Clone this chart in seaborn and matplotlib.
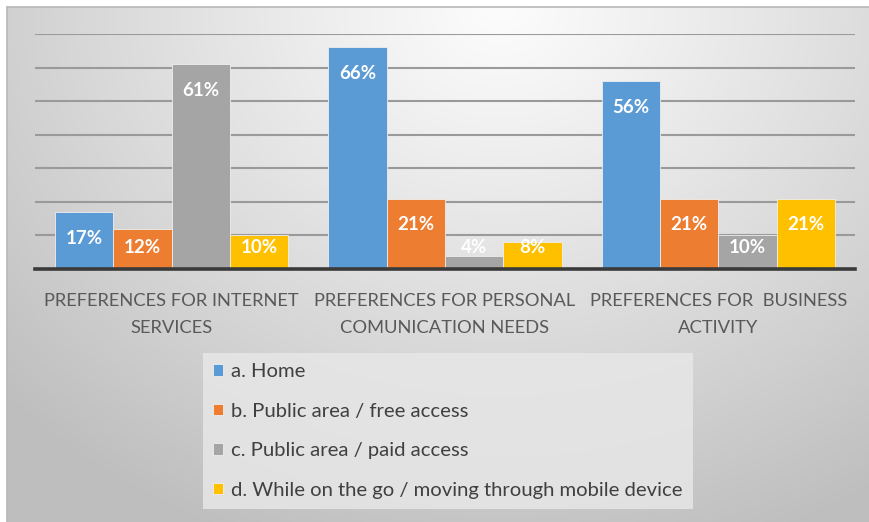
import numpy as np
import pandas as pd
import matplotlib
matplotlib.use("Agg")
import matplotlib.pyplot as plt
import seaborn as sns

# Survey data: share of respondents (%) by place of access
categories = [
    "PREFERENCES FOR INTERNET\nSERVICES",
    "PREFERENCES FOR PERSONAL\nCOMUNICATION NEEDS",
    "PREFERENCES FOR  BUSINESS\nACTIVITY",
]
series = [
    "a. Home",
    "b. Public area / free access",
    "c. Public area / paid access",
    "d. While on the go / moving through mobile device",
]
home = [17, 66, 56]
free_access = [12, 21, 21]
paid_access = [61, 4, 10]
mobile = [10, 8, 21]

colors = ["#5B9BD5", "#ED7D31", "#A5A5A5", "#FFC000"]

rows = []
for name, vals in zip(series, [home, free_access, paid_access, mobile]):
    for cat, v in zip(categories, vals):
        rows.append({"category": cat, "series": name, "value": v})
df = pd.DataFrame(rows)

sns.set_theme(style="white")
plt.rcParams["font.family"] = ["Lato", "DejaVu Sans"]

W, H = 870, 522
fig = plt.figure(figsize=(W / 100, H / 100), dpi=100)
fig.patch.set_facecolor("white")

# Chart-area background: soft radial gradient, light at top centre
bg = fig.add_axes([7 / W, 0, 1 - 7 / W, 1 - 7 / H])
yy, xx = np.mgrid[0:515, 0:863]
d = np.sqrt((xx - 493) ** 2 + (yy / 0.85) ** 2)
t = np.clip(d / 680, 0, 1) ** 1.1
shade = (252 - 62 * t) / 255.0
bg.imshow(np.dstack([shade, shade, shade]), aspect="auto", interpolation="bilinear")
bg.set_axis_off()
bg.set_zorder(-5)
fig.add_artist(plt.Line2D([7 / W, 1], [1 - 7 / H, 1 - 7 / H], color="#b8b8b8", lw=1.2))
fig.add_artist(plt.Line2D([7 / W, 7 / W], [0, 1 - 7 / H], color="#b8b8b8", lw=1.2))

ax = fig.add_axes([35 / W, (H - 269) / H, (855 - 35) / W, (269 - 34) / H])
ax.set_facecolor("none")

sns.barplot(
    data=df, x="category", y="value", hue="series", hue_order=series,
    order=categories, palette=colors, width=0.853, gap=0,
    saturation=1, edgecolor="#eeeeee", linewidth=0.6, ax=ax, legend=True,
)

ax.set_ylim(0, 70)
ax.set_xlim(-0.5, 2.5)
ax.set_yticks(range(10, 71, 10))
ax.yaxis.grid(True, color="#9a9a9a", lw=1.5)
ax.set_axisbelow(True)
ax.tick_params(axis="y", left=False, labelleft=False)
ax.tick_params(axis="x", bottom=False, pad=11)
for side in ("top", "right", "left"):
    ax.spines[side].set_visible(False)
ax.spines["bottom"].set_color("#3a3a3a")
ax.spines["bottom"].set_linewidth(2.6)
ax.set_xlabel("")
ax.set_ylabel("")
for lab in ax.get_xticklabels():
    lab.set_fontsize(13.2)
    lab.set_color("#595959")
    lab.set_linespacing(1.88)

# Value labels inside the top of each bar
for cont in ax.containers:
    for bar in cont:
        v = bar.get_height()
        y = max(v - 7.8, 6.3)
        ax.text(bar.get_x() + bar.get_width() / 2, y, f"{v:.0f}%",
                ha="center", va="center", color="white",
                fontsize=13.5, fontweight="bold")

leg = ax.legend(
    loc="upper left", bbox_to_anchor=(203 / W, 1 - 353 / H),
    bbox_transform=fig.transFigure, frameon=True, fontsize=14.6,
    handlelength=0.5, handleheight=0.5, handletextpad=0.4,
    labelspacing=1.11, borderpad=0.5, borderaxespad=0,
    fancybox=False,
)
leg.get_frame().set_facecolor("#e7e7e7")
leg.get_frame().set_alpha(0.85)
leg.get_frame().set_edgecolor("none")
for txt in leg.get_texts():
    txt.set_color("#404040")

fig.savefig("out.png", dpi=100)
